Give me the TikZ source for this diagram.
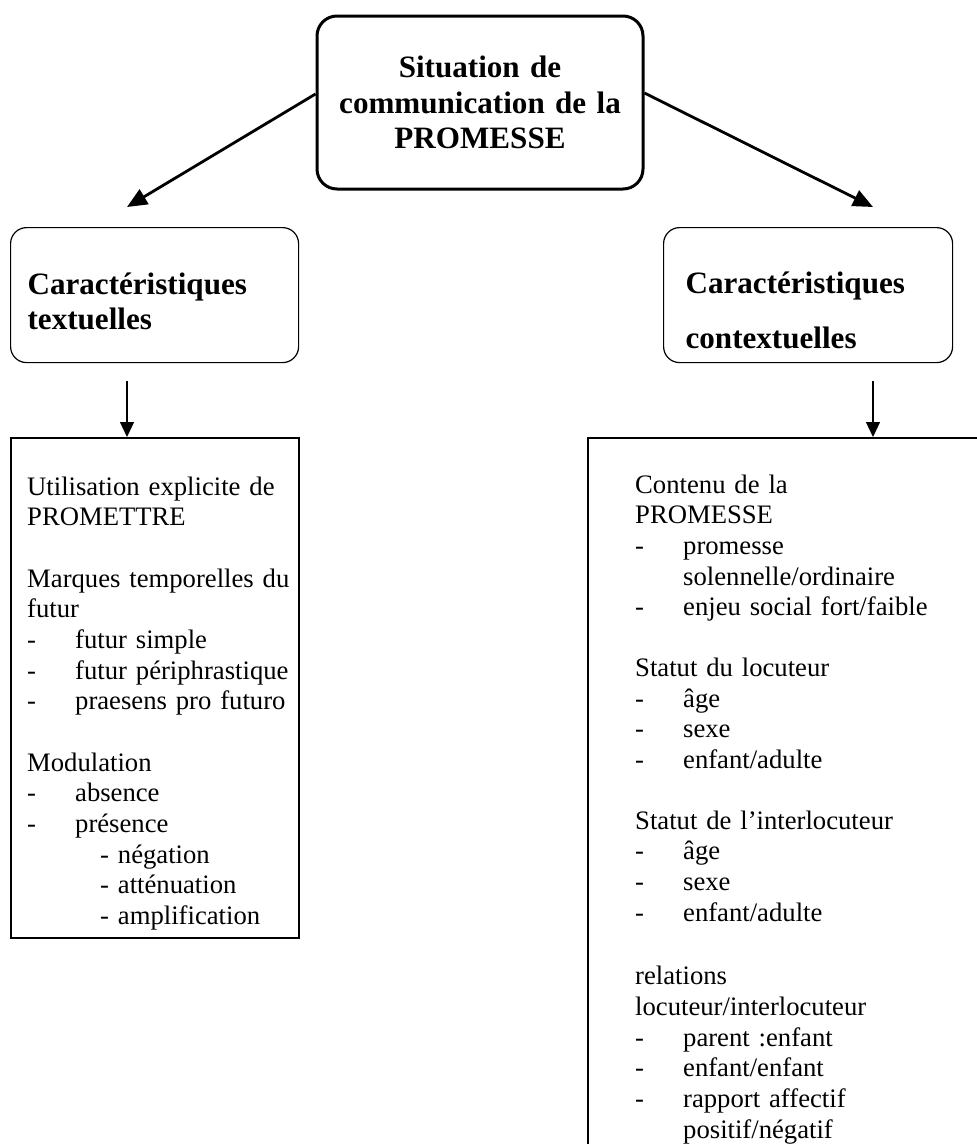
\documentclass[tikz,border=0pt]{standalone}
\usepackage{fontspec}
\setmainfont{Liberation Serif}
\usetikzlibrary{arrows.meta}

\newcommand{\itm}[1]{\makebox[48pt][l]{-}#1}
\newcommand{\subitm}[1]{\hspace*{73pt}- #1}

\tikzset{
  topbox/.style={draw, line width=3pt, rounded corners=20pt, minimum width=326pt,
    minimum height=173pt, text width=300pt, align=center,
    font=\bfseries\fontsize{31.1}{35.8}\selectfont},
  headbox/.style={draw, line width=1.2pt, rounded corners=16pt, anchor=north west,
    minimum height=135pt, inner xsep=0pt, align=left,
    font=\bfseries\fontsize{31.1}{35.8}\selectfont},
  listbox/.style={draw, line width=1.5pt, anchor=north west, inner sep=0pt},
  listtext/.style={anchor=base west, inner sep=0pt, text width=330pt, align=left,
    font=\fontsize{26.67}{30.67}\selectfont},
  bigarrow/.style={line width=2.8pt, -{Triangle[length=20pt,width=17pt]}},
  downarrow/.style={line width=1.2pt, -{Triangle[length=15pt,width=14pt]}}
}

\begin{document}
\begin{tikzpicture}[x=1pt,y=-1pt]
\useasboundingbox (0,0) rectangle (977,1144);
\clip (0,0) rectangle (977,1144);

\node[topbox] (top) at (480,102.5) {Situation de\\communication de la\\PROMESSE};

\node[headbox, minimum width=288pt, text width=254pt] (lhead) at (10,227)
  {\rule{0pt}{34pt}Caractéristiques\\textuelles};
\node[headbox, minimum width=289pt, text width=245pt,
  font=\bfseries\fontsize{31.1}{55}\selectfont] (rhead) at (663,227)
  {\rule{0pt}{52pt}Caractéristiques\\contextuelles};

\coordinate (ltip) at (127,207);
\coordinate (rtip) at (873,207);
\draw[bigarrow] ([yshift=8.5pt]top.west) -- (ltip);
\draw[bigarrow] ([yshift=9.5pt]top.east) -- (rtip);

\node[listbox, minimum width=288pt, minimum height=500pt] (lbox) at (10,437) {};
\node[listbox, minimum width=500pt, minimum height=800pt] (rbox) at (587,437) {};

\draw[downarrow] (ltip |- lhead.south) ++(0,18) -- (ltip |- lbox.north);
\draw[downarrow] (rtip |- rhead.south) ++(0,18) -- (rtip |- rbox.north);

\node[listtext] (ltext) at (27,495) {%
Utilisation explicite de\\
PROMETTRE\\[30.67pt]
Marques temporelles du\\
futur\\
\itm{futur simple}\\
\itm{futur périphrastique}\\
\itm{praesens pro futuro}\\[30.67pt]
Modulation\\
\itm{absence}\\
\itm{présence}\\
\subitm{négation}\\
\subitm{atténuation}\\
\subitm{amplification}};

\node[listtext] (rtext) at (635,493) {%
Contenu de la\\
PROMESSE\\
\itm{promesse}\\
\hspace*{48pt}solennelle/ordinaire\\
\itm{enjeu social fort/faible}\\[30pt]
Statut du locuteur\\
\itm{âge}\\
\itm{sexe}\\
\itm{enfant/adulte}\\[30pt]
Statut de l’interlocuteur\\
\itm{âge}\\
\itm{sexe}\\
\itm{enfant/adulte}\\[33pt]
relations\\
locuteur/interlocuteur\\
\itm{parent :enfant}\\
\itm{enfant/enfant}\\
\itm{rapport affectif}\\
\hspace*{48pt}positif/négatif};
\end{tikzpicture}
\end{document}
